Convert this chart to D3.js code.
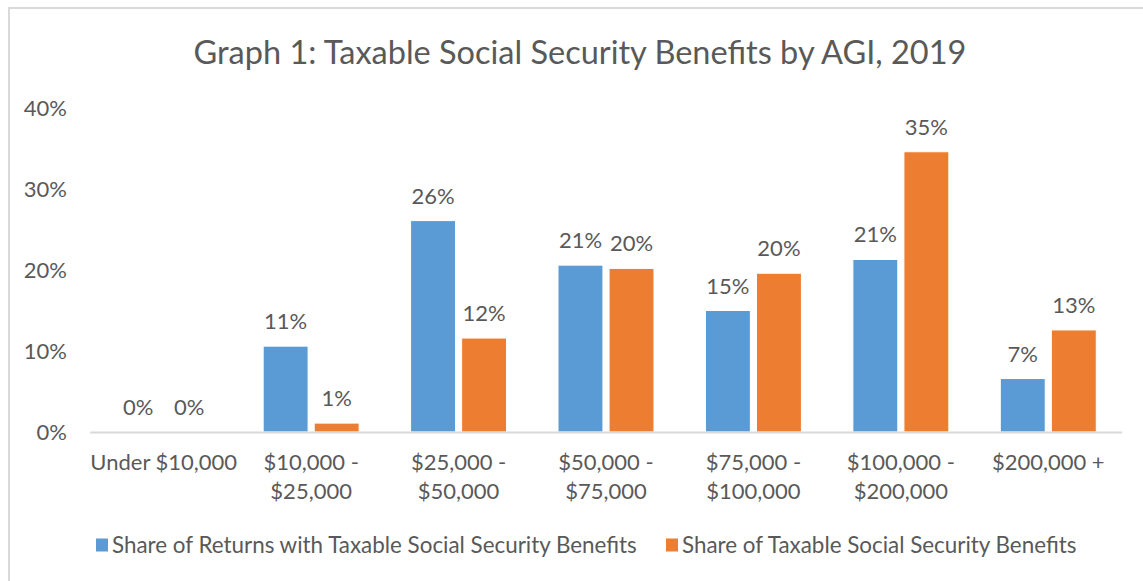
<!DOCTYPE html>
<html>
<head>
<meta charset="utf-8">
<title>Graph 1: Taxable Social Security Benefits by AGI, 2019</title>
<script src="https://cdn.jsdelivr.net/npm/d3@7"></script>
<style>
body { margin: 0; background: #fff; }
svg text { font-family: Lato, "Liberation Sans", sans-serif; fill: #595959; }
</style>
</head>
<body>
<script>
// data (percent)
var categories = [["Under $10,000"], ["$10,000 -", "$25,000"], ["$25,000 -", "$50,000"],
    ["$50,000 -", "$75,000"], ["$75,000 -", "$100,000"], ["$100,000 -", "$200,000"], ["$200,000 +"]];
var seriesNames = ["Share of Returns with Taxable Social Security Benefits", "Share of Taxable Social Security Benefits"];
var returnsShare = [0, 10.6, 26.1, 20.6, 15.0, 21.3, 6.6];
var benefitsShare = [0, 1.1, 11.6, 20.2, 19.6, 34.6, 12.6];
var yTicks = [0, 10, 20, 30, 40];
var colors = ["#5B9BD5", "#ED7D31"];

var width = 1143, height = 581;
var svg = d3.select("body").append("svg")
    .attr("width", width).attr("height", height);

// chart frame
svg.append("rect")
    .attr("x", 9).attr("y", 8)
    .attr("width", width + 10).attr("height", height + 10)
    .attr("fill", "none").attr("stroke", "#d9d9d9").attr("stroke-width", 2);

svg.append("text")
    .attr("x", 580).attr("y", 64)
    .attr("text-anchor", "middle")
    .style("font-size", "32.5px")
    .text("Graph 1: Taxable Social Security Benefits by AGI, 2019");

var x0 = d3.scaleBand()
    .domain(d3.range(categories.length))
    .range([90, 1122])
    .paddingInner(0.349).paddingOuter(0.1745);

var x1 = d3.scaleBand()
    .domain([0, 1])
    .range([0, x0.bandwidth()])
    .paddingInner(0.12);

var y = d3.scaleLinear().domain([0, 40]).range([432, 108]);

// y axis labels (no line)
var yAxis = svg.append("g")
    .attr("transform", "translate(67,0)")
    .call(d3.axisLeft(y).tickValues(yTicks).tickSize(0).tickPadding(0)
        .tickFormat(function(d) { return d + "%"; }));
yAxis.select(".domain").remove();
yAxis.selectAll("text")
    .style("font-size", "22px")
    .attr("fill", "#595959")
    .attr("dy", "0.35em");

var rows = categories.map(function(c, i) {
    return { i: i, vals: [returnsShare[i], benefitsShare[i]] };
});

var groups = svg.selectAll(".grp")
    .data(rows).enter().append("g")
    .attr("class", "grp")
    .attr("transform", function(d) { return "translate(" + x0(d.i) + ",0)"; });

groups.selectAll("rect")
    .data(function(d) { return d.vals.map(function(v, k) { return { k: k, v: v }; }); })
    .enter().append("rect")
    .attr("x", function(d) { return x1(d.k); })
    .attr("width", x1.bandwidth())
    .attr("y", function(d) { return y(d.v); })
    .attr("height", function(d) { return y(0) - y(d.v); })
    .attr("fill", function(d) { return colors[d.k]; })
    .attr("stroke", "#fff").attr("stroke-width", 1);

groups.selectAll("text.val")
    .data(function(d) { return d.vals.map(function(v, k) { return { k: k, v: v }; }); })
    .enter().append("text")
    .attr("class", "val")
    .attr("x", function(d) { return x1(d.k) + x1.bandwidth() / 2; })
    .attr("y", function(d) { return y(d.v) - 17; })
    .attr("text-anchor", "middle")
    .style("font-size", "22px")
    .text(function(d) { return Math.round(d.v) + "%"; });

// x axis line
svg.append("line")
    .attr("x1", 90).attr("x2", 1122)
    .attr("y1", y(0) + 0.5).attr("y2", y(0) + 0.5)
    .attr("stroke", "#d9d9d9").attr("stroke-width", 2);

// category labels
var cat = svg.selectAll(".cat")
    .data(categories).enter().append("text")
    .attr("class", "cat")
    .attr("text-anchor", "middle")
    .style("font-size", "22px")
    .attr("transform", function(d, i) { return "translate(" + (x0(i) + x0.bandwidth() / 2) + ",470)"; });
cat.selectAll("tspan")
    .data(function(d) { return d; })
    .enter().append("tspan")
    .attr("x", 0)
    .attr("dy", function(d, j) { return j === 0 ? 0 : 29; })
    .text(function(d) { return d; });

// legend
var legendX = [96, 666];
var leg = svg.selectAll(".leg")
    .data(seriesNames).enter().append("g")
    .attr("class", "leg")
    .attr("transform", function(d, i) { return "translate(" + legendX[i] + ",545)"; });
leg.append("rect")
    .attr("x", 0).attr("y", -6.5)
    .attr("width", 12).attr("height", 13)
    .attr("fill", function(d, i) { return colors[i]; });
leg.append("text")
    .attr("x", 16).attr("dy", "0.36em")
    .style("font-size", "22.4px")
    .text(function(d) { return d; });
</script>
</body>
</html>
